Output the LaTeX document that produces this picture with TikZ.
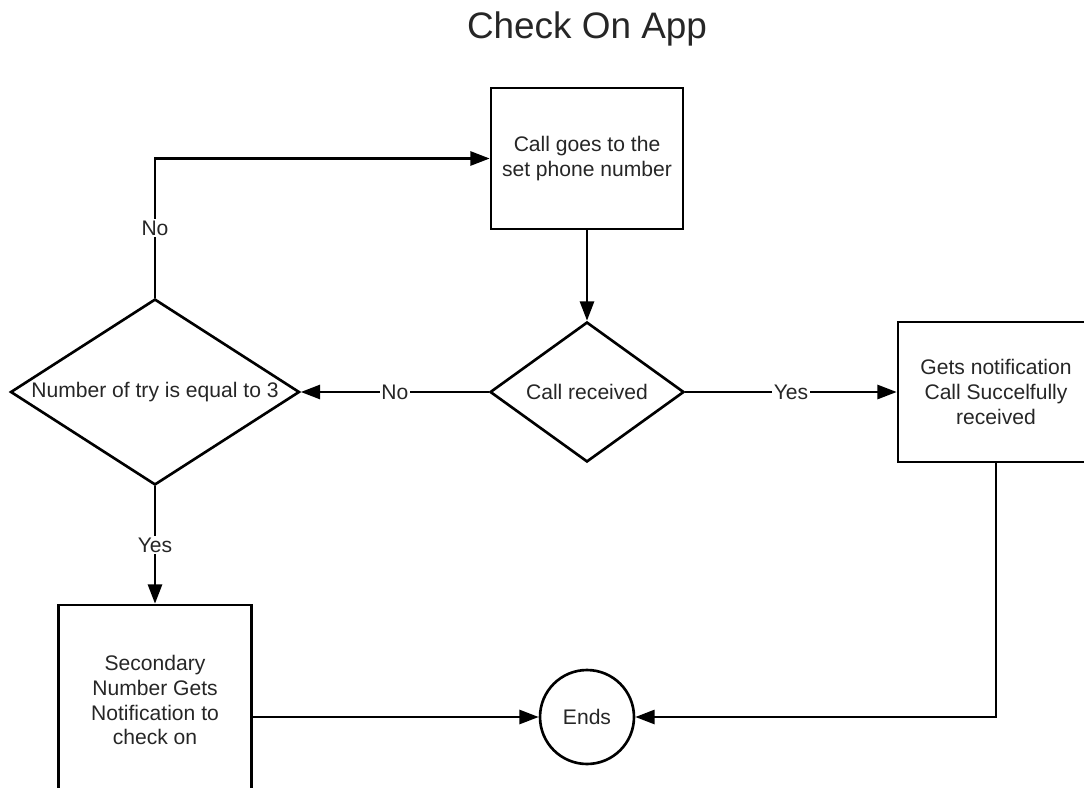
\documentclass[tikz,border=0pt]{standalone}
\usepackage{fontspec}
\setmainfont{Liberation Sans}
\usetikzlibrary{shapes.geometric,arrows.meta}

\begin{document}
\begin{tikzpicture}[x=0.02cm,y=-0.02cm,
    line width=1.5pt,
    every node/.style={font=\fontsize{12}{14.2}\selectfont, text=black!85},
    stepbox/.style={draw, rectangle, align=center, inner sep=0pt},
    choice/.style={draw, diamond, align=center, inner sep=0pt},
    flow/.style={-{Triangle[length=11pt,width=8pt]}},
    lbl/.style={fill=white, inner sep=1pt}]

    \useasboundingbox (0,0) rectangle (1084,787);

    % title
    \node[anchor=base, font=\fontsize{21}{25}\selectfont] (title) at (587,39) {Check On App};

    % call goes out
    \node[stepbox, minimum width=3.84cm, minimum height=2.82cm] (call) at (587,158.5) {Call goes to the\\set phone number};

    % call received?
    \node[choice, minimum width=3.88cm, minimum height=2.8cm, aspect=1.39] (recv) at (587,392) {Call received};

    % number of tries
    \node[choice, minimum width=5.78cm, minimum height=3.72cm, aspect=1.55] (tries) at (155,392) {Number of try is equal to 3};

    % success
    \node[stepbox, minimum width=3.92cm, minimum height=2.8cm] (succ) at (996,392) {Gets notification\\Call Succelfully\\received};

    % secondary number
    \node[stepbox, minimum width=3.86cm, minimum height=3.8cm] (second) at (155,700) {Secondary\\Number Gets\\Notification to\\check on};

    % end
    \node[draw, circle, minimum size=1.88cm, inner sep=0pt] (ends) at (587,717) {Ends};

    % connectors
    \draw[flow] (call) -- (recv);
    \draw[flow] (recv) -- node[lbl] {No} (tries);
    \draw[flow] (recv) -- node[lbl] {Yes} (succ);
    \draw[flow] (tries.north) |- node[lbl, pos=0.25] {No} (call.west);
    \draw[flow] (tries) -- node[lbl] {Yes} (second);
    \draw[flow] (second.east |- ends) -- (ends);
    \draw[flow] (succ) |- (ends);

\end{tikzpicture}
\end{document}
